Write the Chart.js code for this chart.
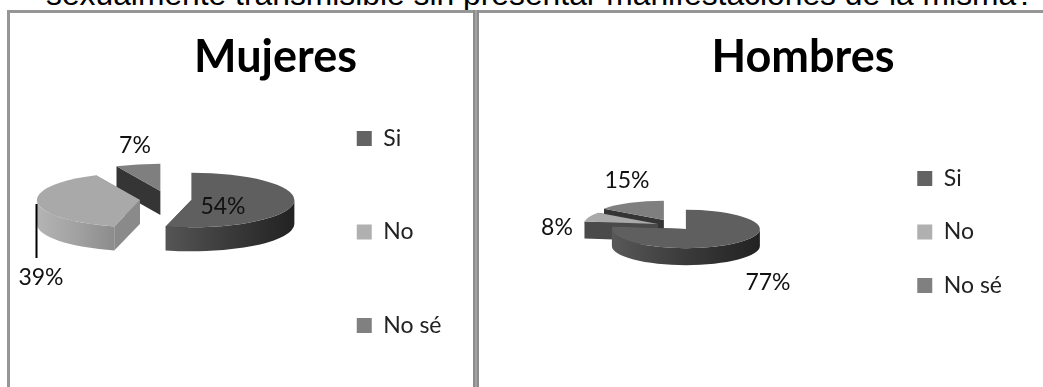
<!DOCTYPE html>
<html>
<head>
<meta charset="utf-8">
<script src="https://cdn.jsdelivr.net/npm/chart.js@4"></script>
<style>
html,body{margin:0;padding:0;background:#fff;width:1043px;height:387px;overflow:hidden}
#heading{position:absolute;left:46px;top:-19px;font:31.8px/26px "Liberation Sans",Arial,sans-serif;color:#000;white-space:nowrap}
.rule{position:absolute;background:#969696}
.holder{position:absolute;filter:blur(0.45px)}
canvas{display:block}
</style>
</head>
<body>
<div id="heading">sexualmente transmisible sin presentar manifestaciones de la misma?</div>
<div class="rule" style="left:7px;top:10px;width:1036px;height:3px"></div>
<div class="rule" style="left:7px;top:10px;width:3px;height:377px"></div>
<div class="rule" style="left:473px;top:10px;width:6px;height:377px;background:linear-gradient(90deg,#8c8c8c 0,#8c8c8c 35%,#bdbdbd 50%,#8c8c8c 65%,#8c8c8c 100%)"></div>
<div class="holder" style="left:10px;top:13px;width:463px;height:438px"><canvas id="c1" width="463" height="438"></canvas></div>
<div class="holder" style="left:479px;top:13px;width:564px;height:438px"><canvas id="c2" width="564" height="438"></canvas></div>
<script>
const categories = ['Si', 'No', 'No sé'];
const mujeresValues = [54, 39, 7];
const hombresValues = [77, 8, 15];
const mujeresLabels = ['54%', '39%', '7%'];
const hombresLabels = ['77%', '8%', '15%'];
const legendColors = ['#636363', '#b0b0b0', '#808080'];

const FONT = 'Lato, "Open Sans", sans-serif';

function pie3dPlugin(style) {
  return {
    id: 'pie3d',
    beforeDatasetDraw(chart) {
      const ctx = chart.ctx;
      const arcs = chart.getDatasetMeta(0).data;
      const order = [2, 1, 0];
      order.forEach(i => {
        const arc = arcs[i];
        const a0 = arc.startAngle, a1 = arc.endAngle;
        const rx = arc.outerRadius, ry = rx * style.squash, d = style.depth;
        const cx = arc.x + style.shift[0] + style.explode[i][0];
        const cy = arc.y + style.shift[1] + style.explode[i][1];
        const px = a => cx + rx * Math.cos(a), py = a => cy + ry * Math.sin(a);
        // cut faces
        ctx.fillStyle = style.cut[i];
        [a0, a1].forEach(a => {
          ctx.beginPath();
          ctx.moveTo(cx, cy); ctx.lineTo(px(a), py(a));
          ctx.lineTo(px(a), py(a) + d); ctx.lineTo(cx, cy + d);
          ctx.closePath(); ctx.fill();
        });
        // outer wall on the front half of the ellipse
        [[0, Math.PI], [2 * Math.PI, 3 * Math.PI]].forEach(([lo, hi]) => {
          const s = Math.max(a0, lo), e = Math.min(a1, hi);
          if (e <= s) return;
          const g = ctx.createLinearGradient(px(e), 0, px(s), 0);
          style.wall[i].forEach((c, k, all) => g.addColorStop(k / (all.length - 1), c));
          ctx.fillStyle = g;
          ctx.beginPath();
          ctx.ellipse(cx, cy, rx, ry, 0, s, e);
          ctx.ellipse(cx, cy + d, rx, ry, 0, e, s, true);
          ctx.closePath(); ctx.fill();
        });
        // top face
        ctx.fillStyle = style.top[i];
        ctx.beginPath();
        ctx.moveTo(cx, cy);
        ctx.ellipse(cx, cy, rx, ry, 0, a0, a1);
        ctx.closePath(); ctx.fill();
      });
      return false;
    },
    afterDatasetsDraw(chart) {
      const ctx = chart.ctx;
      ctx.save();
      ctx.fillStyle = '#111';
      ctx.font = '23px ' + FONT;
      ctx.textAlign = 'center';
      ctx.textBaseline = 'middle';
      style.labels.forEach((t, i) => ctx.fillText(t, style.labelPos[i][0], style.labelPos[i][1]));
      if (style.leader) {
        ctx.strokeStyle = '#000';
        ctx.lineWidth = 2;
        ctx.beginPath();
        ctx.moveTo(style.leader[0], style.leader[1]);
        ctx.lineTo(style.leader[2], style.leader[3]);
        ctx.stroke();
      }
      ctx.restore();
    }
  };
}

function makeChart(id, title, values, radius, padding, legendPadding, style) {
  new Chart(document.getElementById(id), {
    type: 'pie',
    data: {
      labels: categories,
      datasets: [{ data: values, backgroundColor: legendColors, borderWidth: 0, radius: radius }]
    },
    plugins: [pie3dPlugin(style)],
    options: {
      responsive: false,
      animation: false,
      events: [],
      layout: { padding: padding },
      plugins: {
        tooltip: { enabled: false },
        title: {
          display: true, text: title, color: '#000',
          font: { family: FONT, size: 45, weight: 'bold' },
          padding: { top: 17, bottom: 0 }
        },
        legend: {
          position: 'right',
          labels: {
            color: '#222', boxWidth: 15, boxHeight: 15,
            padding: legendPadding,
            font: { family: FONT, size: 23 }
          }
        }
      }
    }
  });
}

makeChart('c1', 'Mujeres', mujeresValues, 103,
  { left: 89.5, right: 21.5, top: 0, bottom: 0 }, 70.5, {
    squash: 0.265, depth: 24, shift: [-1.5, -67.5],
    explode: [[0, 0], [-51.5, 0], [-31, -9]],
    top: ['#5f5f5f', '#a9a9a9', '#7f7f7f'],
    cut: ['#333333', '#8a8a8a', '#353535'],
    wall: [['#555555', '#3a3a3a', '#222222'], ['#b4b4b4', '#a2a2a2', '#8c8c8c'], ['#555555', '#555555']],
    labels: mujeresLabels,
    labelPos: [[213, 194], [31, 265], [125, 133]],
    leader: [26.5, 191, 26.5, 245]
  });

makeChart('c2', 'Hombres', hombresValues, 74,
  { left: 115, right: 31, top: 0, bottom: 0 }, 30.5, {
    squash: 0.26, depth: 17, shift: [-54.5, -38.5],
    explode: [[0, 0], [-28, -5], [-22, -9]],
    top: ['#5f5f5f', '#a9a9a9', '#7f7f7f'],
    cut: ['#3a3a3a', '#4a4a4a', '#353535'],
    wall: [['#585858', '#3a3a3a', '#222222'], ['#4a4a4a', '#4a4a4a'], ['#555555', '#555555']],
    labels: hombresLabels,
    labelPos: [[289, 270], [78, 215], [148, 168]]
  });
</script>
</body>
</html>
